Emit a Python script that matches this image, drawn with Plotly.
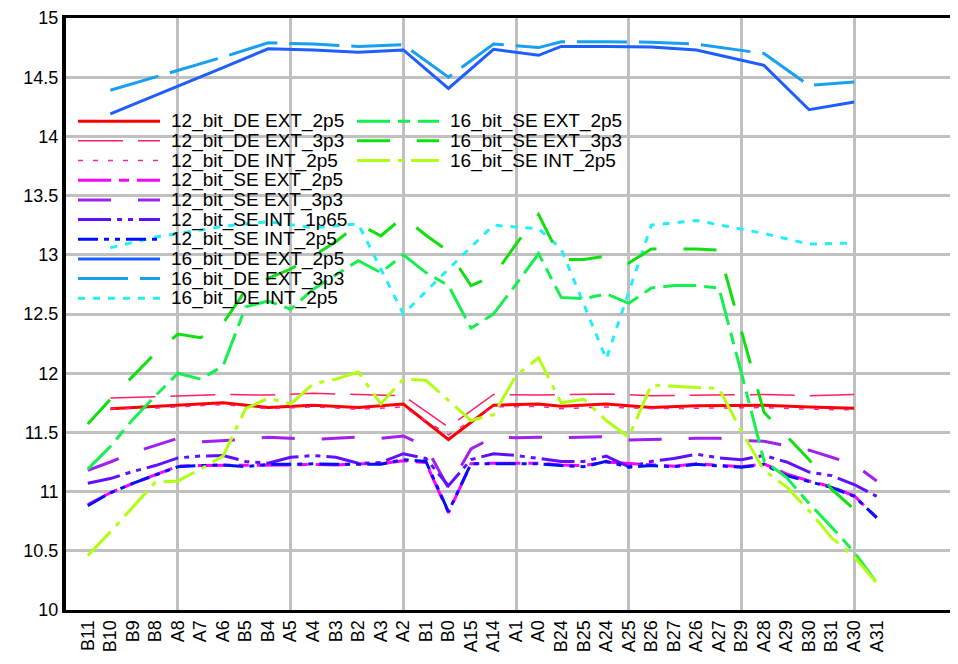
import plotly.graph_objects as go

categories = ["B11", "B10", "B9", "B8", "A8", "A7", "A6", "B5", "B4", "A5", "A4", "B3",
              "B2", "A3", "A2", "B1", "B0", "A15", "A14", "A1", "A0", "B24", "B25", "A24",
              "A25", "B26", "B27", "A26", "A27", "B29", "A28", "A29", "B30", "B31", "A30", "A31"]

N = None
# differential (DE) series are measured on a subset of the channels
de12_ext_2p5 = [N, 11.70, N, 11.72, N, N, 11.75, N, 11.71, N, 11.73, N, 11.71, N, 11.74, N, 11.44, N,
                11.73, N, 11.74, 11.72, N, 11.74, N, 11.71, N, 11.725, N, N, 11.73, N, 11.715, N, 11.705, N]
de12_ext_3p3 = [N, 11.79, N, 11.80, N, N, 11.82, N, 11.815, N, 11.83, N, 11.82, N, 11.81, N, 11.545, N,
                11.82, N, 11.815, 11.82, N, 11.825, N, 11.81, N, 11.815, N, N, 11.82, N, 11.81, N, 11.82, N]
de12_int_2p5 = [N, 11.70, N, 11.705, N, N, 11.735, N, 11.70, N, 11.715, N, 11.695, N, 11.715, N, 11.48, N,
                11.715, N, 11.72, 11.70, N, 11.715, N, 11.70, N, 11.705, N, N, 11.71, N, 11.695, N, 11.69, N]
se12_ext_2p5 = [10.89, 10.99, 11.07, 11.145, 11.215, 11.22, 11.22, 11.22, 11.225, 11.225, 11.23, 11.225,
                11.235, 11.235, 11.26, 11.245, 10.82, 11.235, 11.24, 11.24, 11.24, 11.225, 11.22, 11.25,
                11.24, 11.225, 11.215, 11.235, 11.225, 11.21, 11.235, 11.15, 11.09, 11.04, 10.965, 10.78]
se12_ext_3p3 = [11.18, 11.25, 11.33, 11.39, 11.45, 11.42, 11.43, 11.44, 11.46, 11.45, 11.44, 11.45,
                11.46, 11.45, 11.47, 11.38, 11.03, 11.36, 11.46, 11.455, 11.46, 11.455, 11.46, 11.465,
                11.435, 11.44, 11.45, 11.45, 11.45, 11.43, 11.425, 11.39, 11.35, 11.29, 11.23, 11.09]
se12_int_1p65 = [11.07, 11.11, 11.17, 11.22, 11.285, 11.30, 11.305, 11.255, 11.24, 11.29, 11.305, 11.29,
                 11.24, 11.245, 11.32, 11.28, 11.05, 11.27, 11.32, 11.305, 11.28, 11.255, 11.255, 11.30,
                 11.21, 11.255, 11.28, 11.315, 11.285, 11.27, 11.305, 11.25, 11.165, 11.135, 11.06, 10.96]
se12_int_2p5 = [10.88, 10.99, 11.07, 11.14, 11.21, 11.22, 11.225, 11.21, 11.23, 11.23, 11.235, 11.23,
                11.23, 11.23, 11.27, 11.255, 10.83, 11.235, 11.235, 11.235, 11.235, 11.22, 11.21, 11.255,
                11.205, 11.22, 11.21, 11.23, 11.22, 11.205, 11.23, 11.135, 11.085, 11.035, 10.96, 10.78]
de16_ext_2p5 = [N, 14.19, N, 14.345, N, N, 14.58, N, 14.74, N, 14.73, N, 14.71, N, 14.73, N, 14.405, N,
                14.735, N, 14.685, 14.76, N, 14.76, N, 14.755, N, 14.73, N, N, 14.60, N, 14.225, N, 14.29, N]
de16_ext_3p3 = [N, 14.39, N, 14.50, N, N, 14.67, N, 14.79, N, 14.78, N, 14.76, N, 14.775, N, 14.50, N,
                14.78, N, 14.75, 14.80, N, 14.80, N, 14.795, N, 14.78, N, N, 14.70, N, 14.43, N, 14.46, N]
de16_int_2p5 = [N, 13.06, N, 13.15, N, N, 13.24, N, 13.28, N, 13.23, N, 13.26, N, 12.50, N, 12.88, N,
                13.25, N, 13.22, 13.05, N, 12.12, N, 13.25, N, 13.29, N, N, 13.18, N, 13.09, N, 13.10, N]
se16_ext_2p5 = [11.19, 11.38, 11.61, 11.81, 12.00, 11.95, 12.06, 12.56, 12.61, 12.54, 12.71, 12.83,
                12.95, 12.85, 13.00, 12.85, 12.74, 12.38, 12.50, 12.75, 13.01, 12.64, 12.63, 12.67,
                12.59, 12.72, 12.74, 12.74, 12.72, 12.00, 11.26, 11.12, 10.90, 10.70, 10.49, 10.23]
se16_ext_3p3 = [11.57, 11.78, 11.975, 12.17, 12.33, 12.30, 12.42, 12.70, 12.80, 12.88, 12.99, 13.11,
                13.26, 13.16, 13.32, 13.165, 13.03, 12.74, 12.82, 13.09, 13.34, 12.96, 12.96, 12.99,
                12.93, 13.05, 13.05, 13.05, 13.04, 12.36, 11.67, 11.47, 11.27, 11.02, 10.85, N]
se16_int_2p5 = [10.46, 10.66, 10.87, 11.08, 11.09, 11.19, 11.30, 11.70, 11.79, 11.74, 11.91, 11.95,
                12.01, 11.74, 11.95, 11.94, 11.77, 11.60, 11.65, 11.98, 12.13, 11.75, 11.78, 11.60,
                11.46, 11.90, 11.89, 11.88, 11.87, 11.51, 11.18, 11.04, 10.84, 10.61, 10.45, 10.23]

series_names = ["12_bit_DE EXT_2p5", "12_bit_DE EXT_3p3", "12_bit_DE INT_2p5",
                "12_bit_SE EXT_2p5", "12_bit_SE EXT_3p3", "12_bit_SE INT_1p65", "12_bit_SE INT_2p5",
                "16_bit_DE EXT_2p5", "16_bit_DE EXT_3p3", "16_bit_DE INT_2p5",
                "16_bit_SE EXT_2p5", "16_bit_SE EXT_3p3", "16_bit_SE INT_2p5"]
series_values = [de12_ext_2p5, de12_ext_3p3, de12_int_2p5,
                 se12_ext_2p5, se12_ext_3p3, se12_int_1p65, se12_int_2p5,
                 de16_ext_2p5, de16_ext_3p3, de16_int_2p5,
                 se16_ext_2p5, se16_ext_3p3, se16_int_2p5]

colors = ["#FF0000", "#FF2060", "#FF20A8", "#FF00FF", "#A020F0", "#6010FF", "#0010FF",
          "#1E5EFF", "#18A0F0", "#22EEF8", "#14F050", "#10E010", "#B0FF10"]
dashes = ["solid", "45px,15px", "5px,10px", "33px,8px,10px,8px", "33px,27px",
          "33px,6px,5px,6px,5px,6px", "20px,6px,5px,6px,5px,6px",
          "solid", "50px,12px", "7px,8px", "33px,8px,12px,8px", "33px,27px", "33px,8px,5px,8px"]
widths = [3, 1.5, 1.5, 3, 3, 3, 3, 3, 3, 3, 3, 3, 3]

FONT = "Liberation Sans, Arial, sans-serif"
x = list(range(len(categories)))

fig = go.Figure()
for name, vals, c, d, w in zip(series_names, series_values, colors, dashes, widths):
    fig.add_trace(go.Scatter(x=x, y=vals, name=name, mode="lines", connectgaps=True,
                             showlegend=False, line=dict(color=c, dash=d, width=w)))

# page geometry: the html body adds an 8px offset around the figure
OFF = 8
L, T, W, H = 66, 16, 892, 594          # plot area on the page
FW, FH = 958 - OFF, 664 - OFF          # figure size
def px(xp):
    return (xp - L) / W
def py(yp):
    return (T + H - yp) / H

shapes = []
annotations = []
rows_per_col = 10
for i, (name, c, d, w) in enumerate(zip(series_names, colors, dashes, widths)):
    col, row = divmod(i, rows_per_col)
    yrow = 119.5 + row * 19.75
    x0 = 78 if col == 0 else 357
    shapes.append(dict(type="line", xref="paper", yref="paper", x0=px(x0), x1=px(x0 + 82),
                       y0=py(yrow), y1=py(yrow), line=dict(color=c, dash=d, width=w)))
    annotations.append(dict(xref="paper", yref="paper", x=px(x0 + 91), y=py(yrow), text=name,
                            showarrow=False, xanchor="left", yanchor="middle",
                            font=dict(family=FONT, size=19, color="black")))

grid_idx = [i for i in x if i % 5 == 4]

fig.update_layout(
    width=FW, height=FH,
    margin=dict(l=L - OFF, r=FW - (L - OFF) - W, t=T - OFF, b=FH - (T - OFF) - H, pad=0),
    paper_bgcolor="white", plot_bgcolor="white",
    showlegend=False,
    shapes=shapes, annotations=annotations,
    xaxis=dict(range=[-21.8 / 22.54, (W - 21.8) / 22.54],
               tickmode="array", tickvals=x, ticktext=categories, tickangle=-90,
               tickfont=dict(family=FONT, size=18, color="black"), ticklabeloverflow="allow",
               showgrid=False, zeroline=False, ticks="",
               showline=True, linecolor="black", linewidth=3, mirror=True,
               minor=dict(tickmode="array", tickvals=grid_idx, showgrid=True,
                          gridcolor="#C0C0C0", gridwidth=2.5, ticks="")),
    yaxis=dict(range=[10, 15], tick0=10, dtick=0.5, tickformat="~g",
               tickfont=dict(family=FONT, size=18, color="black"), ticklabeloverflow="allow",
               showgrid=True, gridcolor="#C0C0C0", gridwidth=2.5, zeroline=False, ticks="",
               showline=True, linecolor="black", linewidth=4),
)

fig.write_html("out.html")
